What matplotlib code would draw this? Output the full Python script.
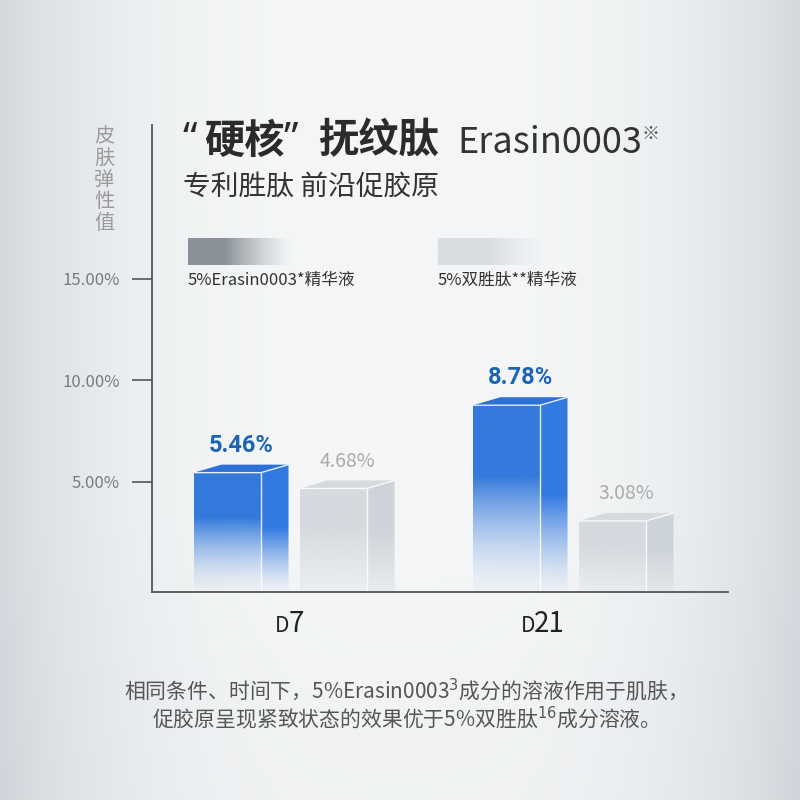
import numpy as np
import matplotlib
matplotlib.use('Agg')
import matplotlib.pyplot as plt
from matplotlib.patches import Polygon

plt.rcParams['font.family'] = ['Noto Sans CJK SC', 'DejaVu Sans']

# data
categories = ['D7', 'D21']
series_names = ['5%Erasin0003*精华液', '5%双胜肽**精华液']
erasin_vals = [5.46, 8.78]
peptide_vals = [4.68, 3.08]
yticks = [5, 10, 15]
ytick_labels = ['5.00%', '10.00%', '15.00%']

fig = plt.figure(figsize=(8, 8), dpi=100)

# background gradient (grey at the sides, near white in the middle)
bg = fig.add_axes([0, 0, 1, 1], zorder=-10)
yy, xx = np.mgrid[0:1:400j, 0:1:400j]
m = np.abs(xx - 0.5) / 0.5
m = 0.85 * m ** 3.2 + 0.12 * np.clip(0.35 - yy, 0, 1) / 0.35
m = np.clip(m, 0, 1)
c0 = np.array([244, 246, 247]) / 255
c1 = np.array([208, 212, 218]) / 255
bg.imshow(c0 + (c1 - c0) * m[..., None], extent=[0, 1, 0, 1], aspect='auto', origin='lower')


def hswatch(x0, x1, y0, y1, rgb, solid):
    t = np.linspace(0, 1, 256)
    arr = np.zeros((1, 256, 4))
    arr[..., :3] = np.array(rgb) / 255
    arr[0, :, 3] = np.clip((1 - t) / (1 - solid), 0, 1) ** 1.3
    bg.imshow(arr, extent=[x0, x1, y0, y1], aspect='auto', origin='lower')


# legend swatches
hswatch(188 / 800, 292 / 800, 1 - 265 / 800, 1 - 238 / 800, (138, 145, 152), 0.35)
hswatch(438 / 800, 548 / 800, 1 - 265 / 800, 1 - 238 / 800, (218, 221, 226), 0.45)
bg.set_xlim(0, 1)
bg.set_ylim(0, 1)
bg.axis('off')

# main axes
ax = fig.add_axes([152 / 800, 1 - 592 / 800, 576 / 800, 467 / 800])
ax.set_facecolor('none')
ybot = -0.42
ax.set_xlim(0, 5.76)
ax.set_ylim(ybot, ybot + 467 / 20.3)

w = 0.67
dx = 0.275
dy = 8 / 20.3
base = [0.42, 3.21]
gap = 1.06


def grad_face(verts, rgb, afunc, y0, y1):
    poly = Polygon(verts, closed=True, facecolor='none', edgecolor='none')
    ax.add_patch(poly)
    t = np.linspace(0, 1, 256)
    arr = np.zeros((256, 1, 4))
    arr[..., :3] = np.array(rgb) / 255
    arr[:, 0, 3] = afunc(t)
    xs = [v[0] for v in verts]
    im = ax.imshow(arr, extent=[min(xs), max(xs), y0, y1], origin='lower',
                   aspect='auto', interpolation='bilinear')
    im.set_clip_path(poly)


def bar3d(x, v, front, side, top, fa, sa):
    grad_face([(x, ybot), (x + w, ybot), (x + w, v), (x, v)], front, fa, ybot, v)
    grad_face([(x + w, ybot), (x + w + dx, ybot), (x + w + dx, v + dy), (x + w, v)],
              side, sa, ybot, v + dy)
    ax.add_patch(Polygon([(x, v), (x + dx, v + dy), (x + w + dx, v + dy), (x + w, v)],
                         closed=True, facecolor=np.array(top) / 255, edgecolor='none'))
    ax.plot([x + w, x + w], [ybot, v], color='white', lw=1, alpha=0.85)
    ax.plot([x, x + w, x + w + dx], [v, v, v + dy], color='white', lw=1, alpha=0.85)


blue_front = lambda t: 0.03 + 0.97 * np.clip(t / 0.62, 0, 1) ** 1.6
blue_side = lambda t: 0.03 + 0.97 * np.clip(t / 0.5, 0, 1) ** 1.4
gray_front = lambda t: 0.2 + 0.8 * np.clip(t / 0.65, 0, 1)
gray_side = lambda t: 0.25 + 0.75 * np.clip(t / 0.55, 0, 1)

for i in range(len(categories)):
    xb = base[i]
    bar3d(xb, erasin_vals[i], (52, 122, 220), (50, 122, 226), (45, 112, 215),
          blue_front, blue_side)
    ax.text(xb + (w + dx) / 2, erasin_vals[i] + dy + 0.95, f'{erasin_vals[i]:.2f}%',
            ha='center', va='center', fontsize=17, fontweight='bold',
            color='#1b64b6', family='Roboto')
    xg = xb + gap
    bar3d(xg, peptide_vals[i], (213, 218, 223), (206, 212, 218), (214, 218, 222),
          gray_front, gray_side)
    ax.text(xg + (w + dx) / 2, peptide_vals[i] + dy + 0.95, f'{peptide_vals[i]:.2f}%',
            ha='center', va='center', fontsize=14, color='#ababab')

# axes styling
for s in ['top', 'right']:
    ax.spines[s].set_visible(False)
for s in ['left', 'bottom']:
    ax.spines[s].set_color('#555555')
    ax.spines[s].set_linewidth(1.3)
ax.set_yticks(yticks, ytick_labels)
ax.tick_params(axis='y', length=14.4, width=1.2, color='#555555', pad=9,
               labelsize=12, labelcolor='#7a7a7a')

# category labels: small "D" followed by the day number
label_x = [1.37, 3.90]
ax.set_xticks(label_x, [''] * len(categories))
ax.tick_params(axis='x', length=0)
xt = ax.get_xaxis_transform()
for cx, cat in zip(label_x, categories):
    d_w = 0.15
    num_w = 0.155 * (len(cat) - 1)
    split = cx - (d_w + num_w) / 2 + d_w
    ax.text(split + 0.01, -0.086, cat[0], transform=xt, ha='right', va='baseline',
            fontsize=15, color='#222222')
    ax.text(split - 0.005, -0.086, cat[1:], transform=xt, ha='left', va='baseline',
            fontsize=20, color='#222222')

# titles
ty = 1 - 141 / 800
fig.text(183 / 800, ty, '“', fontsize=29, fontweight='bold', color='#2b2b2b',
         va='center', family='Noto Sans')
fig.text(204 / 800, ty, '硬核', fontsize=29, fontweight='bold', color='#2b2b2b', va='center')
fig.text(284 / 800, ty, '”', fontsize=29, fontweight='bold', color='#2b2b2b',
         va='center', family='Noto Sans')
fig.text(318 / 800, ty, '抚纹肽', fontsize=29, fontweight='bold', color='#2b2b2b', va='center')
fig.text(457 / 800, 1 - 143 / 800, 'Erasin0003', fontsize=26, color='#333333', va='center')
fig.text(641 / 800, 1 - 134 / 800, '※', fontsize=13, color='#555555', va='center')
fig.text(183 / 800, 1 - 187 / 800, '专利胜肽 前沿促胶原', fontsize=20, color='#333333',
         va='center')
fig.text(104 / 800, 1 - 180 / 800, '皮\n肤\n弹\n性\n值', fontsize=14.5, color='#9a9a9a',
         ha='center', va='center', linespacing=1.05)

# legend labels
fig.text(188 / 800, 1 - 280 / 800, series_names[0], fontsize=12, color='#333333', va='center')
fig.text(438 / 800, 1 - 280 / 800, series_names[1], fontsize=12, color='#333333', va='center')

# footnote
fig.text(0.5, 1 - 690 / 800, '相同条件、时间下，5%Erasin0003$^{3}$成分的溶液作用于肌肤，',
         ha='center', va='center', fontsize=15, color='#555555')
fig.text(0.5, 1 - 718 / 800, '促胶原呈现紧致状态的效果优于5%双胜肽$^{16}$成分溶液。',
         ha='center', va='center', fontsize=15, color='#555555')

fig.savefig('out.png', dpi=100)
